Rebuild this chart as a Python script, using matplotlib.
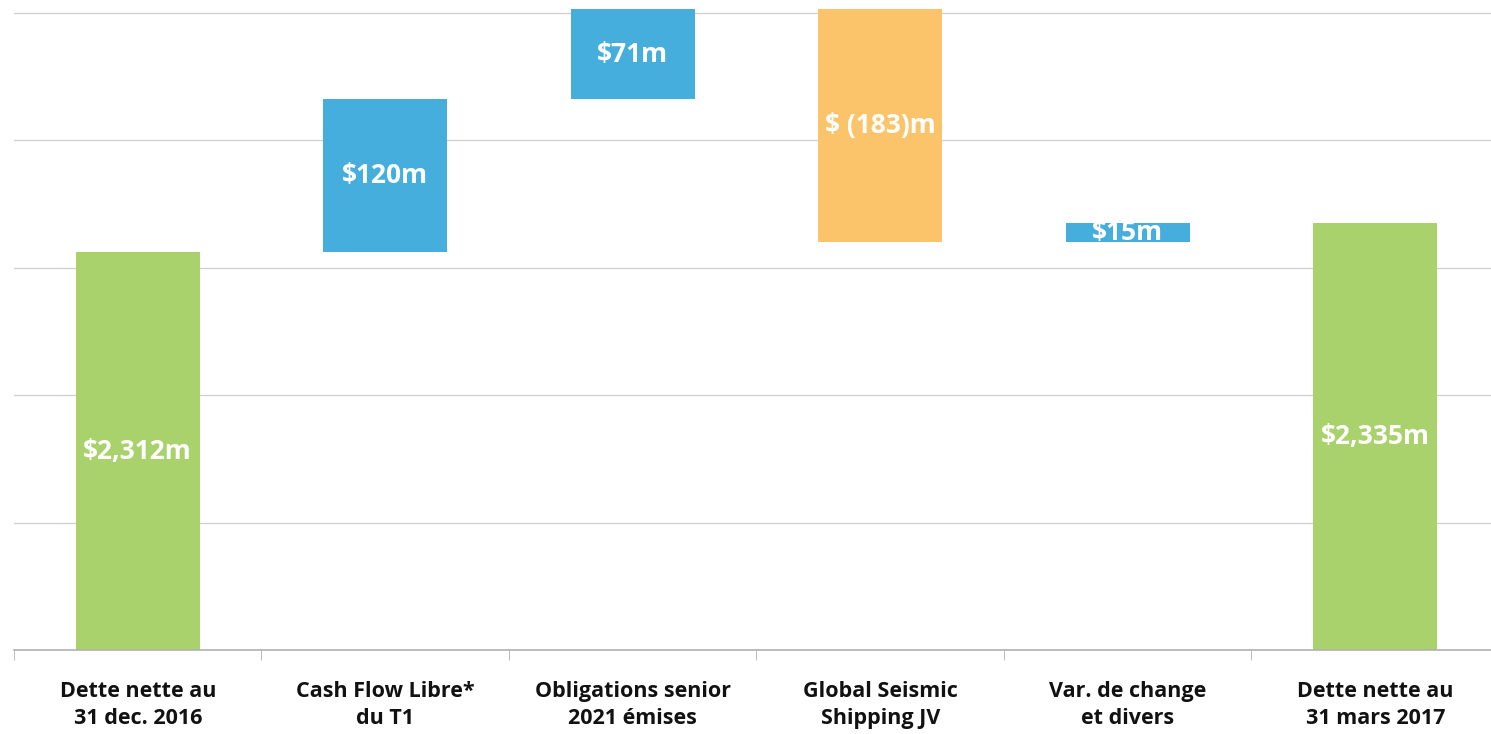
import matplotlib.pyplot as plt
import numpy as np

# net debt bridge, $m
categories = ['Dette nette au\n31 dec. 2016', 'Cash Flow Libre*\ndu T1',
              'Obligations senior\n2021 émises', 'Global Seismic\nShipping JV',
              'Var. de change\net divers', 'Dette nette au\n31 mars 2017']
start_value = 2312
changes = [120, 71, -183, 15]
end_value = 2335
bar_labels = ['$2,312m', '$120m', '$71m', '$ (183)m', '$15m', '$2,335m']

green = '#A9D26C'
blue = '#45AEDC'
orange = '#FBC46A'

plt.rcParams['font.family'] = ['Open Sans', 'DejaVu Sans']

fig = plt.figure(figsize=(14.91, 7.34), dpi=100)
ax = fig.add_axes([14 / 1491, 84 / 734, 1485 / 1491, 650 / 734])

x = np.arange(len(categories))
bottoms = [2000]
heights = [start_value - 2000]
colors = [green]
running = start_value
for c in changes:
    if c >= 0:
        bottoms.append(running)
        heights.append(c)
        colors.append(blue)
    else:
        bottoms.append(running + c)
        heights.append(-c)
        colors.append(orange)
    running += c
bottoms.append(2000)
heights.append(end_value - 2000)
colors.append(green)

ax.bar(x, heights, bottom=bottoms, width=0.5, color=colors, zorder=2)

for xi, b, h, lab in zip(x, bottoms, heights, bar_labels):
    ax.text(xi, b + h / 2, lab, ha='center', va='center', color='white',
            fontsize=19, fontweight='bold', zorder=3)

ax.set_xlim(-0.5, 5.5)
ax.set_ylim(2000, 2510)
ax.set_yticks([2100, 2200, 2300, 2400, 2500])
ax.yaxis.grid(True, color='#cfcfcf', linewidth=0.9, zorder=0)
ax.tick_params(axis='y', left=False, labelleft=False)

ax.set_xticks(x)
ax.set_xticklabels(categories, fontsize=15.5, fontweight='bold', color='#111111',
                   linespacing=1.4)
ax.set_xticks(np.arange(-0.5, 6, 1), minor=True)
ax.tick_params(axis='x', which='major', length=0, pad=22)
ax.tick_params(axis='x', which='minor', length=7, color='#b0b0b0', direction='out')

for s in ['top', 'right', 'left']:
    ax.spines[s].set_visible(False)
ax.spines['bottom'].set_color('#b0b0b0')
ax.spines['bottom'].set_linewidth(1.2)

fig.savefig('out.png', dpi=100)
